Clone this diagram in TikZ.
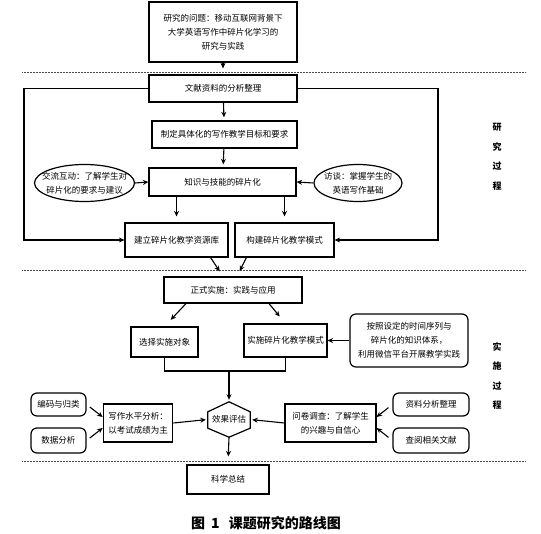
\documentclass[tikz,border=0pt]{standalone}
\usepackage{fontspec}
\setmainfont{Noto Sans CJK SC}
\usetikzlibrary{arrows.meta, shapes.geometric}

\tikzset{
  box/.style={draw, line width=1.2pt, rectangle, inner sep=0pt, align=center,
    font=\fontsize{8.5}{14}\selectfont},
  rbox/.style={box, rounded corners=6pt},
  oval/.style={box, ellipse, inner xsep=-10pt, inner ysep=-5pt},
  plain/.style={inner sep=0pt, align=center, font=\fontsize{8.5}{14}\selectfont},
  arr/.style={line width=1.1pt, -{Stealth[length=5.5pt, width=5pt]}},
  sep/.style={black!70, line width=0.6pt, dash pattern=on 0.6pt off 0.9pt},
  side/.style={align=center, font=\bfseries\fontsize{9}{19.5}\selectfont},
}

\begin{document}
\begin{tikzpicture}[x=1pt, y=-1pt]
\useasboundingbox (0, 0) rectangle (541, 534);

% Draw phase separators.
\draw[sep] (22, 72) -- (526, 72);
\draw[sep] (22, 270) -- (526, 270);
\draw[sep] (22, 461) -- (526, 461);

% Draw research part.
\node[box, minimum width=148pt, minimum height=60pt] (q) at (223, 32)
  {研究的问题：移动互联网背景下\\大学英语写作中碎片化学习的\\研究与实践};
\node[box, minimum width=148pt, minimum height=27pt] (lit) at (223, 88.5)
  {文献资料的分析整理};
\node[box, minimum width=145pt, minimum height=27pt] (goal) at (224.5, 134.5)
  {制定具体化的写作教学目标和要求};
\node[box, minimum width=147pt, minimum height=28pt] (frag) at (222.5, 182)
  {知识与技能的碎片化};
\node[oval, minimum width=100pt, minimum height=37pt] (talk) at (84.5, 183)
  {交流互动：了解学生对\\碎片化的要求与建议};
\node[oval, minimum width=88pt, minimum height=37pt] (interview) at (358, 183)
  {访谈：掌握学生的\\英语写作基础};
\node[box, minimum width=103pt, minimum height=34pt] (res) at (176.5, 240)
  {建立碎片化教学资源库};
\node[box, minimum width=99pt, minimum height=34pt] (mode) at (284.5, 240)
  {构建碎片化教学模式};

\coordinate (loopL) at (24, 240);
\coordinate (loopR) at (438, 240);

\draw[arr, shorten >=6pt] (q) -- (lit);
\draw[arr, shorten >=3pt] (lit) -- (goal);
\draw[arr, shorten >=3pt] (goal) -- (frag);
\draw[arr] (lit.west) -| (loopL) -- (res.west);
\draw[arr] (lit.east) -| (loopR) -- (mode.east);
\draw[arr] (talk.east) -- (frag.west);
\draw[arr] (interview.west) -- (frag.east);
\draw[arr, shorten >=6pt] (res.north |- frag.south) -- (res.north);
\draw[arr, shorten >=6pt] (mode.north |- frag.south) -- (mode.north);

% Draw practice part.
\node[box, minimum width=138pt, minimum height=26pt] (impl) at (233, 290)
  {正式实施：实践与应用};
\node[box, minimum width=67pt, minimum height=30pt] (sel) at (164.5, 342)
  {选择实施对象};
\node[box, minimum width=83pt, minimum height=33pt] (run) at (285.5, 340.5)
  {实施碎片化教学模式};
\node[rbox, minimum width=118pt, minimum height=53pt] (plan) at (409, 340.5)
  {按照设定的时间序列与\\碎片化的知识体系，\\利用微信平台开展教学实践};

\draw[arr, shorten >=6pt] ([xshift=-18pt]res.south east) -- ([xshift=-10pt]impl.north);
\draw[arr, shorten >=6pt] ([xshift=12pt]mode.south west) -- ([xshift=4pt]impl.north);
\draw[arr, shorten >=9pt] ([xshift=-47pt]impl.south) -- (sel.north);
\draw[arr, shorten >=9pt] ([xshift=36pt]impl.south) -- (run.north);
\draw[arr] (plan.west) -- (run.east);

% Draw evaluation.
\node[plain, minimum width=42pt, minimum height=35pt] (eval) at (229, 419.5) {效果评估};
\draw[line width=1.2pt] (eval.north) -- ([yshift=-10pt]eval.north east)
  -- ([yshift=9pt]eval.south east) -- (eval.south)
  -- ([yshift=9pt]eval.south west) -- ([yshift=-10pt]eval.north west) -- cycle;

\node[box, minimum width=69.5pt, minimum height=38pt] (writ) at (138, 423)
  {写作水平分析：\\以考试成绩为主};
\node[box, minimum width=91pt, minimum height=38pt] (survey) at (330.5, 423)
  {问卷调查：了解学生\\的兴趣与自信心};
\node[rbox, minimum width=55pt, minimum height=23pt] (code) at (58.5, 404.5) {编码与归类};
\node[rbox, minimum width=55pt, minimum height=25pt] (data) at (58.5, 440.5) {数据分析};
\node[rbox, minimum width=76pt, minimum height=23pt] (docs) at (431, 404.5) {资料分析整理};
\node[rbox, minimum width=76pt, minimum height=25pt] (read) at (431, 440.5) {查阅相关文献};
\node[box, minimum width=82pt, minimum height=29pt] (sum) at (228, 479.5) {科学总结};

\coordinate (join) at (229, 371);
\draw[line width=1.2pt] (sel.south) |- (join) -| (run.south);
\draw[arr, shorten >=2pt] (join) -- (eval.north);
\draw[arr, shorten >=2pt] (writ.east) -- (eval.west);
\draw[arr, shorten >=2pt] (survey.west) -- (eval.east);
\draw[arr, shorten <=4pt] (code.east) -- ([yshift=6pt]writ.west);
\draw[arr, shorten <=4pt] (data.east) -- ([yshift=-5pt]writ.west);
\draw[arr, shorten <=5pt] (docs.west) -- ([yshift=6pt]survey.east);
\draw[arr, shorten <=5pt] (read.west) -- ([yshift=-5pt]survey.east);
\draw[arr, shorten >=8pt] (eval.south) -- (sum.north);

% Draw phase labels and caption.
\node[side] (phase1) at (497, 157) {研\\究\\过\\程};
\node[side] (phase2) at (497, 376) {实\\施\\过\\程};
\node[font=\bfseries\fontsize{14}{16}\selectfont] (cap) at (266, 523)
  {图\hspace{6pt}1\hspace{9pt}课题研究的路线图};

\end{tikzpicture}
\end{document}
